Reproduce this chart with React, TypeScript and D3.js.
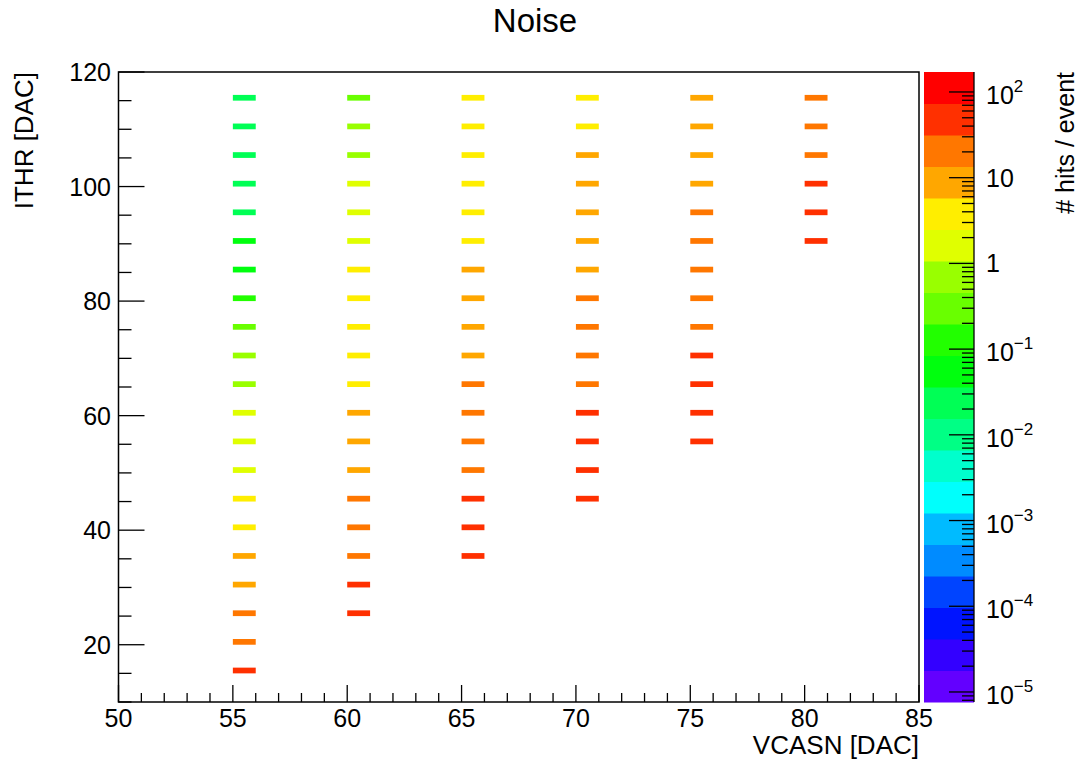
import React from "react";
import * as d3 from "d3";

// ---- data ----
const ithrBins = [15, 20, 25, 30, 35, 40, 45, 50, 55, 60, 65, 70, 75, 80, 85, 90, 95, 100, 105, 110, 115];
const vcasnValues = [55, 60, 65, 70, 75, 80];
// hits/event per ITHR bin (null = empty)
const noiseV55 = [45, 25, 16, 10, 7, 4.5, 3, 2.2, 1.7, 1.3, 0.9, 0.6, 0.35, 0.17, 0.07, 0.045, 0.032, 0.028, 0.024, 0.021, 0.019];
const noiseV60 = [null, null, 55, 38, 28, 20, 15, 12, 9, 6.5, 5.2, 4.5, 3.8, 3.2, 2.7, 2.2, 1.8, 1.3, 0.9, 0.6, 0.4];
const noiseV65 = [null, null, null, null, 60, 45, 34, 28, 22, 18, 14.5, 12, 10, 8, 6.5, 5.3, 4.6, 4, 3.5, 3, 2.7];
const noiseV70 = [null, null, null, null, null, null, 65, 50, 42, 35, 29, 24, 19, 15, 12.5, 11, 9.5, 8, 6.5, 5.3, 4.5];
const noiseV75 = [null, null, null, null, null, null, null, null, 65, 52, 43, 35, 29, 25, 21, 18, 15, 13, 11, 9.5, 8];
const noiseV80 = [null, null, null, null, null, null, null, null, null, null, null, null, null, null, null, 55, 45, 36, 29, 23, 18];
const noiseSeries = [noiseV55, noiseV60, noiseV65, noiseV70, noiseV75, noiseV80];

const xTicks = [50, 55, 60, 65, 70, 75, 80, 85];
const yTicks = [20, 40, 60, 80, 100, 120];
const zTickExps = [2, 1, 0, -1, -2, -3, -4, -5];

const title = "Noise";
const xTitle = "VCASN [DAC]";
const yTitle = "ITHR [DAC]";
const zTitle = "# hits / event";

// ---- layout ----
const W = 1083, H = 765;
const fL = 118.5, fR = 919, fT = 72, fB = 702;
const cbL = 924, cbR = 974;
const nContours = 20;
const zLogMin = -5.117, zLogMax = 2.233;

const x = d3.scaleLinear().domain([50, 85]).range([fL, fR]);
const y = d3.scaleLinear().domain([10, 120]).range([fB, fT]);
const z = d3.scaleLog().domain([Math.pow(10, zLogMin), Math.pow(10, zLogMax)]).range([fB, fT]);

function bandColor(b: number) {
  const k = Math.floor(((b + 0.99) * 50) / nContours);
  const hue = k >= 49 ? 0 : 280 - (k + 1) * 5.6;
  return d3.hsl(hue, 1, 0.5).formatHex();
}
function valueColor(v: number) {
  const t = (Math.log10(v) - zLogMin) / (zLogMax - zLogMin);
  const b = Math.max(0, Math.min(nContours - 1, Math.floor(t * nContours)));
  return bandColor(b);
}

const FONT = "'Liberation Sans', Arial, Helvetica, sans-serif";

export default function App() {
  const cells: any[] = [];
  vcasnValues.forEach((vc, i) => {
    noiseSeries[i].forEach((v, j) => {
      if (v == null) return;
      const it = ithrBins[j];
      cells.push(
        <rect key={`${vc}-${it}`} x={x(vc)} y={y(it + 1)} width={x(vc + 1) - x(vc)} height={y(it) - y(it + 1)} fill={valueColor(v as number)} />
      );
    });
  });

  const xMinor = d3.range(50, 86, 1);
  const yMinor = d3.range(10, 121, 5);

  const bands = d3.range(nContours).map((b) => {
    const lo = zLogMin + ((zLogMax - zLogMin) * b) / nContours;
    const hi = zLogMin + ((zLogMax - zLogMin) * (b + 1)) / nContours;
    const y0 = z(Math.pow(10, lo));
    const y1 = z(Math.pow(10, hi));
    return <rect key={b} x={cbL} y={y1} width={cbR - cbL} height={y0 - y1 + 0.5} fill={bandColor(b)} />;
  });

  const zMinor: number[] = [];
  for (let e = -6; e <= 2; e++) {
    for (let m = 2; m <= 9; m++) {
      const v = m * Math.pow(10, e);
      const lv = Math.log10(v);
      if (lv > zLogMin && lv < zLogMax) zMinor.push(v);
    }
  }

  return (
    <svg width={W} height={H} style={{ position: "absolute", left: 0, top: 0, background: "#fff" }} fontFamily={FONT}>
      <rect x={0} y={0} width={W} height={H} fill="#fff" />
      <text x={535} y={32} fontSize={33} textAnchor="middle" fill="#000">{title}</text>

      {cells}

      {/* frame */}
      <rect x={fL} y={fT} width={fR - fL} height={fB - fT} fill="none" stroke="#000" strokeWidth={1.5} />

      {/* x ticks */}
      {xMinor.map((t) => (
        <line key={`xm${t}`} x1={x(t)} x2={x(t)} y1={fB} y2={fB - (t % 5 === 0 ? 17 : 9)} stroke="#000" strokeWidth={1.3} />
      ))}
      {xTicks.map((t) => (
        <text key={`xl${t}`} x={x(t)} y={727} fontSize={25} textAnchor="middle">{t}</text>
      ))}
      <text x={fR} y={754} fontSize={26} textAnchor="end">{xTitle}</text>

      {/* y ticks */}
      {yMinor.map((t) => (
        <line key={`ym${t}`} x1={fL} x2={fL + (t % 20 === 0 ? 26 : 13)} y1={y(t)} y2={y(t)} stroke="#000" strokeWidth={1.3} />
      ))}
      {yTicks.map((t) => (
        <text key={`yl${t}`} x={111} y={y(t) + 9} fontSize={25} textAnchor="end">{t}</text>
      ))}
      <text transform={`translate(33,${fT}) rotate(-90)`} fontSize={26} textAnchor="end">{yTitle}</text>

      {/* color bar */}
      {bands}
      <line x1={cbR} x2={cbR} y1={fT} y2={fB} stroke="#000" strokeWidth={1.3} />
      {zMinor.map((v, i) => (
        <line key={`zm${i}`} x1={cbR} x2={cbR - 12} y1={z(v)} y2={z(v)} stroke="#000" strokeWidth={1.3} />
      ))}
      {zTickExps.map((e) => {
        const yy = z(Math.pow(10, e));
        return (
          <g key={`zt${e}`}>
            <line x1={cbR} x2={cbR - 25} y1={yy} y2={yy} stroke="#000" strokeWidth={1.3} />
            {e === 0 ? (
              <text x={986} y={yy + 9} fontSize={25}>1</text>
            ) : e === 1 ? (
              <text x={986} y={yy + 9} fontSize={25}>10</text>
            ) : (
              <text x={986} y={yy + 12} fontSize={25}>
                10
                <tspan fontSize={17} dy={-12}>{e < 0 ? `\u2212${-e}` : `${e}`}</tspan>
              </text>
            )}
          </g>
        );
      })}
      <text transform={`translate(1074,${fT}) rotate(-90)`} fontSize={25} textAnchor="end">{zTitle}</text>
    </svg>
  );
}
